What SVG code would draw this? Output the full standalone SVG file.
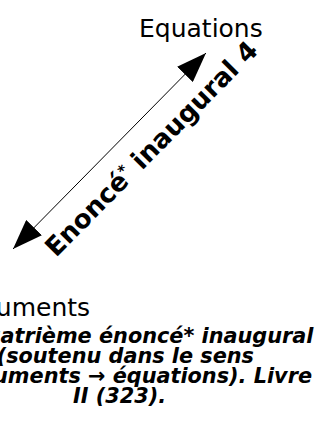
<svg xmlns="http://www.w3.org/2000/svg" width="321" height="427" viewBox="0 0 321 427">
<defs>
<style>
.lbl{font-family:"DejaVu Sans",sans-serif;font-size:25px;fill:#000}
.rot{font-family:"DejaVu Sans",sans-serif;font-size:26px;font-weight:bold;fill:#000}
.cap{font-family:"DejaVu Sans",sans-serif;font-size:20.8px;font-weight:bold;font-style:oblique;fill:#000}
</style>
<marker id="ah" markerUnits="userSpaceOnUse" markerWidth="31" markerHeight="22" viewBox="0 0 31 22" refX="30" refY="11" orient="auto-start-reverse">
<path d="M0,0 L30,11 L0,22 z" fill="#000"/>
</marker>
</defs>
<rect width="321" height="427" fill="#fff"/>
<g id="equations"><text class="lbl" x="139" y="37">Equations</text></g>
<g id="arguments"><text class="lbl" x="-47" y="316">Arguments</text></g>
<g id="connectors">
<line x1="13" y1="249" x2="206" y2="53" stroke="#000" stroke-width="1" marker-start="url(#ah)" marker-end="url(#ah)"/>
<text class="rot" transform="translate(56,258) rotate(-45.4)">Enoncé<tspan font-size="15" baseline-shift="super">*</tspan> inaugural 4</text>
</g>
<g id="caption">
<text class="cap" x="-32" y="343">Quatrième énoncé* inaugural</text>
<text class="cap" x="254" y="363" text-anchor="end">4 (soutenu dans le sens</text>
<text class="cap" x="312" y="383" text-anchor="end">arguments → équations). Livre</text>
<text class="cap" x="73" y="403">II (323).</text>
</g>
</svg>
